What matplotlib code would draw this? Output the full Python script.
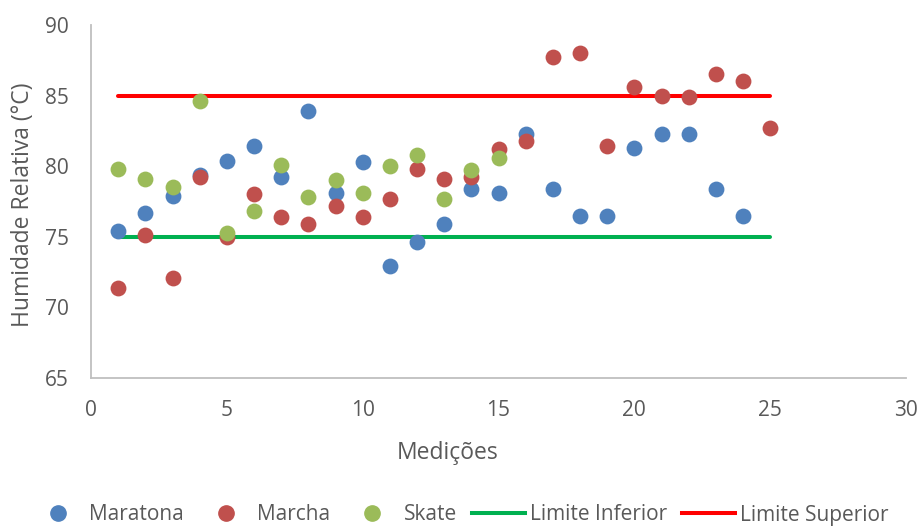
import matplotlib
matplotlib.use("Agg")
import matplotlib.pyplot as plt
from matplotlib.lines import Line2D

plt.rcParams['font.family'] = ['Open Sans', 'DejaVu Sans']

medicoes = list(range(1, 26))
maratona = [75.4, 76.7, 77.9, 79.4, 80.4, 81.4, 79.2, 83.9, 78.1, 80.3,
            72.9, 74.6, 75.9, 78.4, 78.1, 82.3, 78.4, 76.5, 76.5, 81.3,
            82.3, 82.3, 78.4, 76.5]
marcha = [71.4, 75.1, 72.1, 79.2, 75.0, 78.0, 76.4, 75.9, 77.2, 76.4,
          77.7, 79.8, 79.1, 79.2, 81.2, 81.8, 87.7, 88.0, 81.4, 85.6,
          85.0, 84.9, 86.5, 86.0, 82.7]
skate = [79.8, 79.1, 78.5, 84.6, 75.3, 76.8, 80.1, 77.8, 79.0, 78.1,
         80.0, 80.8, 77.7, 79.7, 80.6]
limite_inferior = 75
limite_superior = 85

c_mar = '#4F81BD'
c_mch = '#C0504D'
c_sk = '#9BBB59'
c_inf = '#00B050'
c_sup = '#FF0000'
txt = '#595959'

W, H = 920, 527
fig = plt.figure(figsize=(W / 100, H / 100), dpi=100)
ax = fig.add_axes([91 / W, 1 - 378 / H, (906 - 91) / W, (378 - 25) / H])

ms = 130
ax.scatter(medicoes[:len(maratona)], maratona, s=ms, color=c_mar, linewidths=0, zorder=3)
ax.scatter(medicoes[:len(marcha)], marcha, s=ms, color=c_mch, linewidths=0, zorder=3)
ax.scatter(medicoes[:len(skate)], skate, s=ms, color=c_sk, linewidths=0, zorder=3)
ax.plot([medicoes[0], medicoes[-1]], [limite_inferior] * 2, color=c_inf, lw=2.9,
        solid_capstyle='round', zorder=2)
ax.plot([medicoes[0], medicoes[-1]], [limite_superior] * 2, color=c_sup, lw=2.9,
        solid_capstyle='round', zorder=2)

ax.set_xlim(0, 30)
ax.set_ylim(65, 90)
ax.set_xticks(range(0, 31, 5))
ax.set_yticks(range(65, 91, 5))
for s in ['top', 'right']:
    ax.spines[s].set_visible(False)
for s in ['left', 'bottom']:
    ax.spines[s].set_color('#BFBFBF')
    ax.spines[s].set_linewidth(1.3)
ax.tick_params(axis='x', length=0, labelsize=15, colors=txt, pad=16)
ax.tick_params(axis='y', length=0, labelsize=15, colors=txt, pad=16)
ax.set_xlabel('Medições', fontsize=16.5, color=txt)
ax.set_ylabel('Humidade Relativa (°C)', fontsize=16.5, color=txt)
# label positions in axes fraction
ax.xaxis.set_label_coords((448 - 91) / (906 - 91), -(453 - 378) / (378 - 25))
ax.yaxis.set_label_coords(-(91 - 23) / (906 - 91), (378 - 205) / (378 - 25))
ax.xaxis.label.set_va('center')
ax.yaxis.label.set_va('center')

handles = [
    Line2D([], [], marker='o', ls='none', color=c_mar, markersize=11),
    Line2D([], [], marker='o', ls='none', color=c_mch, markersize=11),
    Line2D([], [], marker='o', ls='none', color=c_sk, markersize=11),
    Line2D([], [], color=c_inf, lw=2.9),
    Line2D([], [], color=c_sup, lw=2.9),
]
labels = ['Maratona', 'Marcha', 'Skate', 'Limite Inferior', 'Limite Superior']
fig.legend(handles, labels, loc='center', bbox_to_anchor=(0.5, 12 / H), ncol=5,
           frameon=False, fontsize=15, labelcolor=txt, handlelength=2.55,
           columnspacing=0.72, handletextpad=0.24, borderpad=0)

fig.savefig('out.png', dpi=100)
